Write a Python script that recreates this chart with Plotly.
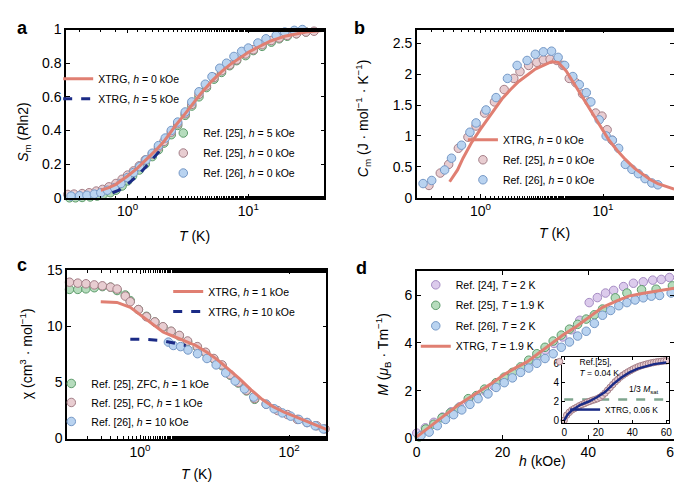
import plotly.graph_objects as go

# ---------------- Panel a : entropy ----------------
a_T_g = [0.33,0.37,0.42,0.49,0.56,0.63,0.72,0.8,0.9,1.0,1.1,1.25,1.4,1.6,1.8,2.0,2.3,2.6,3.0,3.4,3.9,4.5,5.2,6.0,7.0,8.0,9.5,11,13,15.5,18,21,25,30]
a_S_g = [0.0,0.0,0.002,0.005,0.01,0.02,0.03,0.045,0.07,0.1,0.13,0.165,0.2,0.245,0.285,0.325,0.375,0.43,0.49,0.545,0.6,0.655,0.705,0.745,0.785,0.815,0.845,0.875,0.9,0.925,0.945,0.96,0.975,0.985]
a_T_p = [0.32,0.36,0.42,0.48,0.55,0.62,0.7,0.8,0.9,1.0,1.12,1.25,1.4,1.6,1.8,2.0,2.3,2.6,3.0,3.4,3.9,4.5,5.2,6.0,7.0,8.0,9.5,11,13,15.5,18,21,25,30,35]
a_S_p = [0.02,0.022,0.025,0.03,0.04,0.05,0.065,0.085,0.11,0.135,0.16,0.19,0.225,0.26,0.3,0.335,0.39,0.44,0.5,0.555,0.615,0.665,0.715,0.755,0.79,0.82,0.855,0.88,0.91,0.935,0.95,0.965,0.975,0.985,0.99]
a_T_b = [0.34,0.4,0.46,0.53,0.6,0.68,0.78,0.88,1.0,1.12,1.26,1.42,1.6,1.8,2.05,2.3,2.6,3.0,3.4,3.9,4.4,5.0,5.8,6.6,7.6,8.8,10,12,14,17,20,24,28]
a_S_b = [0.01,0.012,0.015,0.022,0.03,0.045,0.06,0.085,0.12,0.15,0.185,0.225,0.265,0.31,0.355,0.4,0.45,0.51,0.57,0.63,0.675,0.72,0.77,0.8,0.84,0.87,0.89,0.92,0.945,0.965,0.985,0.995,1.0]
a_T_x0 = [0.6,0.7,0.8,0.9,1.0,1.2,1.4,1.7,2.0,2.5,3.0,3.5,4.0,5,6,7,8,10,12,15,20,25,30,35,43]
a_S_x0 = [0.045,0.06,0.08,0.105,0.13,0.175,0.22,0.28,0.335,0.43,0.5,0.565,0.615,0.695,0.75,0.79,0.82,0.865,0.895,0.93,0.96,0.975,0.985,0.99,0.995]
a_T_x5 = [0.75,0.85,1.0,1.2,1.4,1.6,1.8,2.0]
a_S_x5 = [0.03,0.045,0.08,0.13,0.18,0.225,0.27,0.31]

# ---------------- Panel b : specific heat ----------------
b_T_p = [0.3,0.38,0.47,0.55,0.66,0.79,0.92,1.08,1.3,1.56,1.87,2.1,2.47,2.88,3.26,3.7,4.2,4.7,5.3,6.0,6.8,7.7,8.7,9.8,10.8,11.9]
b_C_p = [0.13,0.2,0.4,0.54,0.8,0.98,1.16,1.37,1.55,1.75,1.93,2.04,2.14,2.19,2.23,2.24,2.22,2.14,1.93,1.86,1.68,1.55,1.37,1.32,1.1,0.93]
b_T_b = [0.34,0.4,0.51,0.58,0.7,0.82,0.92,1.11,1.34,1.66,1.99,2.4,2.8,3.26,3.8,4.3,4.86,5.67,6.4,7.3,7.95,9.3,10.6,11.9,13.4,15.2,17.2,19.4,22,25,28]
b_C_b = [0.23,0.28,0.45,0.64,0.85,1.06,1.21,1.42,1.62,1.93,2.14,2.22,2.32,2.36,2.37,2.27,2.14,1.96,1.83,1.7,1.55,1.26,1.0,0.93,0.8,0.54,0.46,0.39,0.31,0.24,0.21]
b_T_x = [0.56,0.65,0.72,0.85,1.0,1.15,1.3,1.5,1.76,2.05,2.4,2.8,3.26,3.8,4.3,5.0,6.0,7.0,8.2,9.5,11.2,13,15.2,18,20.7,24,28,33,38]
b_C_x = [0.26,0.45,0.64,0.9,1.11,1.28,1.42,1.6,1.75,1.88,1.98,2.08,2.14,2.2,2.19,2.05,1.8,1.58,1.37,1.15,0.93,0.77,0.62,0.48,0.39,0.3,0.23,0.18,0.14]

# ---------------- Panel c : susceptibility ----------------
c_T_g = [0.113,0.146,0.188,0.243,0.312,0.402,0.492,0.634,0.738,0.95,1.22,1.58,2.03,2.61,3.37,4.34,5.87,7.57,9.75,12.6,16.2,20.8,26.8,34.5]
c_X_g = [13.3,13.3,13.35,13.45,13.55,13.5,13.2,12.8,12.3,11.5,10.9,10.4,9.95,9.55,9.15,8.65,8.15,7.65,7.1,6.5,5.65,4.95,4.25,3.5]
c_T_p = [0.113,0.146,0.188,0.243,0.312,0.402,0.492,0.634,0.738,0.95,1.22,1.58,2.03,2.61,3.37,4.34,5.87,7.57,9.75,12.6,16.2,20.8,26.8,34.5,49.2,70.2,95,129,174,235,303]
c_X_p = [13.94,13.86,13.8,13.7,13.62,13.5,13.33,12.7,12.2,11.5,10.86,10.4,9.97,9.57,9.2,8.7,8.2,7.7,7.14,6.57,5.7,5.0,4.3,3.57,3.06,2.5,2.14,1.71,1.43,1.14,0.86]
c_T_b = [2.4,2.8,3.5,4.4,5.9,7.9,10.5,14.1,18.9,25.2,33.5,49.2,63,81,105,135,174,224,288]
c_X_b = [8.6,8.3,8.2,7.9,7.57,7.14,6.57,5.86,5.14,4.43,3.7,3.06,2.66,2.29,2.0,1.71,1.43,1.14,0.86]
c_T_x1 = [0.297,0.49,0.74,1.1,1.47,2.03,2.84,3.98,5.6,7.9,11.1,15.6,21.9,30.9,43.4,61,86,121,170,239,316]
c_X_x1 = [12.2,12.14,11.7,10.86,10.2,9.5,9.1,8.71,8.3,7.7,7.0,6.14,5.3,4.35,3.5,2.85,2.35,1.95,1.55,1.14,0.83]
c_T_x10 = [0.74,1.2,1.9,2.8,4.1]
c_X_x10 = [8.86,8.84,8.75,8.55,8.3]

# ---------------- Panel d : magnetization ----------------
d_h_v = [0.0,2.0,4.0,6.0,8.0,10.0,12.0,14.0,16.0,18.0,20.0,22.0,24.0,26.0,28.0,30.0,32.0,34.0,36.0,38.0,40.2,42.1,44.0,45.9,48.2,50.5,52.8,55.0,57.0,58.9]
d_M_v = [0.23,0.45,0.68,0.9,1.12,1.33,1.55,1.77,1.98,2.2,2.43,2.66,2.9,3.15,3.42,3.7,3.98,4.25,4.55,4.95,5.69,5.9,6.09,6.2,6.36,6.5,6.56,6.63,6.66,6.74]
d_h_g = [0.6,2.1,4.0,5.9,7.8,9.7,12.0,13.9,15.8,18.5,20.4,22.3,24.2,26.1,28.0,29.9,31.8,33.7,35.6,37.5,39.5,41.4,43.3,46.3,49.0,52.4,55.8,59.6]
d_M_g = [0.07,0.4,0.6,0.87,1.07,1.27,1.67,1.8,2.07,2.34,2.57,2.77,3.0,3.28,3.55,3.82,4.08,4.33,4.58,4.78,5.0,5.18,5.42,5.89,6.09,6.23,6.25,6.39]
d_h_b = [1.0,2.9,4.8,6.7,8.6,10.5,12.4,14.3,16.6,18.5,20.4,22.3,24.2,26.1,28.0,29.9,31.8,33.7,35.6,37.5,39.5,41.4,43.3,45.2,47.1,49.0,50.9,52.8,54.7,56.6,59.3]
d_M_b = [0.13,0.27,0.54,0.8,1.0,1.2,1.43,1.67,1.87,2.14,2.34,2.54,2.77,2.95,3.15,3.35,3.55,3.82,4.04,4.29,4.49,4.82,5.16,5.36,5.56,5.69,5.8,5.89,5.96,5.99,6.09]
d_h_x = [0.0,3.0,6.7,10.0,14.3,17.5,20.4,23.0,25.7,28.5,31.1,34.0,37.2,40.0,43.3,46.5,49.4,52.5,55.4,58.0,60.0]
d_M_x = [0.07,0.5,1.0,1.45,1.94,2.32,2.68,2.96,3.21,3.58,3.95,4.32,4.69,5.05,5.49,5.75,5.96,6.07,6.16,6.24,6.29]
# inset
i_h_p = [0,1.5,3,4.5,6,7.5,9,10.5,12,13.5,15,16.5,18,19.5,21,22.5,24,25.5,27,28.5,30,31.5,33,34.5,36,37.5,39,40.5,42,43.5,45,46.5,48,49.5,51,52.5,54,55.5,57,58.5,60]
i_M_p = [0.0,0.55,0.85,1.1,1.25,1.4,1.55,1.68,1.8,1.92,2.02,2.12,2.2,2.3,2.45,2.65,2.9,3.2,3.5,3.8,4.1,4.35,4.6,4.8,4.98,5.15,5.3,5.45,5.58,5.7,5.8,5.88,5.96,6.03,6.1,6.15,6.2,6.24,6.28,6.31,6.33]
i_h_x = [0,2,4.8,9.6,14.4,19.2,24,28.8,33.6,38.4,43.2,48,52.8,60]
i_M_x = [0.0,0.6,1.1,1.65,2.0,2.45,3.0,3.85,4.55,5.1,5.5,5.78,5.98,6.15]
i_h_sat = [0,60]
i_M_sat = [2.2,2.2]

# ---------------- styles ----------------
SALMON = "#e07f72"
NAVY = "#1b2b86"
MK = dict(
    green=dict(color="#b6dcbd", line=dict(color="#5e9c6c", width=1)),
    pink=dict(color="#e8cdd1", line=dict(color="#a47e87", width=1)),
    blue=dict(color="#b9d3f0", line=dict(color="#7598c6", width=1)),
    purple=dict(color="#dccbec", line=dict(color="#a58bc3", width=1)),
)
FONT = "Liberation Sans, Arial, Helvetica, sans-serif"
MS = 8.5

fig = go.Figure()

def markers(x, y, c, name, xa, ya, leg, rank, size=MS):
    fig.add_trace(go.Scatter(x=x, y=y, mode="markers", name=name,
                             marker=dict(size=size, color=MK[c]["color"], line=MK[c]["line"]),
                             xaxis=xa, yaxis=ya, legend=leg, cliponaxis=False,
                             legendgroup=name, legendrank=rank))

def line(x, y, col, name, xa, ya, leg, rank, dash="solid", width=3, show=True):
    fig.add_trace(go.Scatter(x=x, y=y, mode="lines", name=name,
                             line=dict(color=col, width=width, dash=dash),
                             xaxis=xa, yaxis=ya, legend=leg, showlegend=show,
                             legendgroup=name, legendrank=rank))

H = "<i>h</i>"
Tt = "<i>T</i>"
# panel a
markers(a_T_g, a_S_g, "green", f"Ref. [25], {H} = 5 kOe", "x", "y", "legend2", 1)
markers(a_T_p, a_S_p, "pink", f"Ref. [25], {H} = 0 kOe", "x", "y", "legend2", 2)
markers(a_T_b, a_S_b, "blue", f"Ref. [26], {H} = 0 kOe", "x", "y", "legend2", 3)
line(a_T_x0, a_S_x0, SALMON, f"XTRG, {H} = 0 kOe", "x", "y", "legend", 1)
line(a_T_x5, a_S_x5, NAVY, f"XTRG, {H} = 5 kOe", "x", "y", "legend", 2, dash="dash")
# panel b
markers(b_T_p, b_C_p, "pink", f"Ref. [25], {H} = 0 kOe ", "x2", "y2", "legend3", 2)
markers(b_T_b, b_C_b, "blue", f"Ref. [26], {H} = 0 kOe ", "x2", "y2", "legend3", 3)
line(b_T_x, b_C_x, SALMON, f"XTRG, {H} = 0 kOe ", "x2", "y2", "legend3", 1)
# panel c
markers(c_T_g, c_X_g, "green", f"Ref. [25], ZFC, {H} = 1 kOe", "x3", "y3", "legend5", 1)
markers(c_T_p, c_X_p, "pink", f"Ref. [25], FC, {H} = 1 kOe", "x3", "y3", "legend5", 2)
markers(c_T_b, c_X_b, "blue", f"Ref. [26], {H} = 10 kOe", "x3", "y3", "legend5", 3)
line(c_T_x1, c_X_x1, SALMON, f"XTRG, {H} = 1 kOe", "x3", "y3", "legend4", 1)
line(c_T_x10, c_X_x10, NAVY, f"XTRG, {H} = 10 kOe", "x3", "y3", "legend4", 2, dash="dash")
# panel d
markers(d_h_v, d_M_v, "purple", f"Ref. [24], {Tt} = 2 K", "x4", "y4", "legend6", 1)
markers(d_h_g, d_M_g, "green", f"Ref. [25], {Tt} = 1.9 K", "x4", "y4", "legend6", 2)
markers(d_h_b, d_M_b, "blue", f"Ref. [26], {Tt} = 2 K", "x4", "y4", "legend6", 3)
line(d_h_x, d_M_x, SALMON, f"XTRG, {Tt} = 1.9 K", "x4", "y4", "legend6", 4)
# inset
line(i_h_sat, i_M_sat, "#7fa58e", "1/3 Msat", "x5", "y5", "legend7", 9, dash="dash", width=2.5, show=False)
markers(i_h_p, i_M_p, "pink", f"Ref.[25],<br>{Tt} = 0.04 K", "x5", "y5", "legend7", 1, size=6.5)
line(i_h_x, i_M_x, NAVY, "XTRG, 0.06 K", "x5", "y5", "legend8", 1, width=2.5)

# ---------------- axes ----------------
TF = dict(family=FONT, size=14, color="black")
def ax(domain, anchor, rng, typ="linear", **kw):
    d = dict(domain=domain, anchor=anchor, range=rng, type=typ,
             showline=True, linecolor="black", linewidth=1.5, mirror="ticks",
             ticks="inside", ticklen=4, tickwidth=1.2, tickcolor="black",
             showgrid=False, zeroline=False, tickfont=TF)
    if typ == "log":
        d["minor"] = dict(ticks="inside", ticklen=2.5, tickcolor="black", showgrid=False)
    d.update(kw)
    return d

logt1 = dict(tickvals=[1, 10], ticktext=["10<sup>0</sup>", "10<sup>1</sup>"])
logt2 = dict(tickvals=[1, 100], ticktext=["10<sup>0</sup>", "10<sup>2</sup>"])

ya_dom_top = [1 - 188 / 485, 1 - 14 / 485]
ya_dom_bot = [1 - 437 / 485, 1 - 263 / 485]
fig.update_layout(
    width=682, height=485, margin=dict(l=0, r=0, t=0, b=0),
    paper_bgcolor="white", plot_bgcolor="white",
    font=dict(family=FONT, color="black"),
    xaxis=ax([55 / 682, 318 / 682], "y", [-0.51, 1.63], "log", **logt1),
    yaxis=ax(ya_dom_top, "x", [0, 1.0], tickvals=[0, 0.2, 0.4, 0.6, 0.8, 1], ticktext=["0", "0.2", "0.4", "0.6", "0.8", "1"]),
    xaxis2=ax([412 / 682, 674 / 682], "y2", [-0.52, 1.58], "log", **logt1),
    yaxis2=ax(ya_dom_top, "x2", [0, 2.72], tickvals=[0, 0.5, 1, 1.5, 2, 2.5], ticktext=["0", "0.5", "1", "1.5", "2", "2.5"]),
    xaxis3=ax([56 / 682, 320 / 682], "y3", [-0.98, 2.5], "log", **logt2),
    yaxis3=ax(ya_dom_bot, "x3", [0, 15], tickvals=[0, 5, 10, 15]),
    xaxis4=ax([412 / 682, 674 / 682], "y4", [0, 60], tickvals=[0, 20, 40, 60]),
    yaxis4=ax([1 - 437 / 485, 1 - 264 / 485], "x4", [0, 7], tickvals=[0, 2, 4, 6]),
    xaxis5=ax([560 / 682, 669 / 682], "y5", [-1.2, 61.7], tickvals=[0, 20, 40, 60], ticklen=3,
              tickfont=dict(family=FONT, size=10, color="black"), linewidth=1.2),
    yaxis5=ax([1 - 421 / 485, 1 - 353 / 485], "x5", [-0.3, 6.7], tickvals=[0, 2, 4, 6], ticklen=3,
              tickfont=dict(family=FONT, size=10, color="black"), linewidth=1.2),
)

# axis titles (paper-pixel placement)
def title(text, x, y, angle=0):
    fig.add_annotation(text=text, x=x / 682, y=1 - y / 485, xref="paper", yref="paper",
                       xanchor="center", yanchor="middle", showarrow=False, textangle=angle,
                       font=dict(family=FONT, size=14, color="black"))

title(f"{Tt} (K)", 186, 228)
title(f"{Tt} (K)", 552, 224)
title(f"{Tt} (K)", 188, 474)
title(f"{H} (kOe)", 540, 460)
title("<i>S</i><sub>m</sub> (<i>R</i>ln2)", 12, 120, -90)
title("<i>C</i><sub>m</sub> (J · mol<sup>−1</sup> · K<sup>−1</sup>)", 357, 106, -90)
title("χ (cm<sup>3</sup> · mol<sup>−1</sup>)", 15, 349, -90)
title("<i>M</i> (<i>μ</i><sub>B</sub> · Tm<sup>−1</sup>)", 378, 350, -90)

LF = dict(family=FONT, size=10.5, color="black")
def leg(x, y, **kw):
    d = dict(x=x / 682, y=1 - y / 485, xanchor="left", yanchor="top", bgcolor="rgba(0,0,0,0)",
             font=LF, itemwidth=30, tracegroupgap=1, traceorder="grouped", borderwidth=0)
    d.update(kw)
    return d

SF = dict(family=FONT, size=8.5, color="black")
fig.update_layout(
    legend=leg(47, 50),
    legend2=leg(154, 106),
    legend3=leg(459, 113),
    legend4=leg(159, 270),
    legend5=leg(40, 365, tracegroupgap=0),
    legend6=leg(411, 263, tracegroupgap=1.5),
    legend7=leg(537, 345, font=SF, valign="top"),
    legend8=leg(563, 392, font=SF),
)

fig.add_annotation(x=47, y=2.2, xref="x5", yref="y5", text="1/3 <i>M</i><sub>sat</sub>", showarrow=False,
                   yshift=10, font=SF)

for lab, x, y in [("a", 3, 0), ("b", 346, 0), ("c", 3, 245), ("d", 348, 248)]:
    fig.add_annotation(text=f"<b>{lab}</b>", x=x / 682, y=1 - y / 485, xref="paper", yref="paper",
                       xanchor="left", yanchor="top", showarrow=False,
                       font=dict(family=FONT, size=18, color="black"))

fig.write_html("out.html")
